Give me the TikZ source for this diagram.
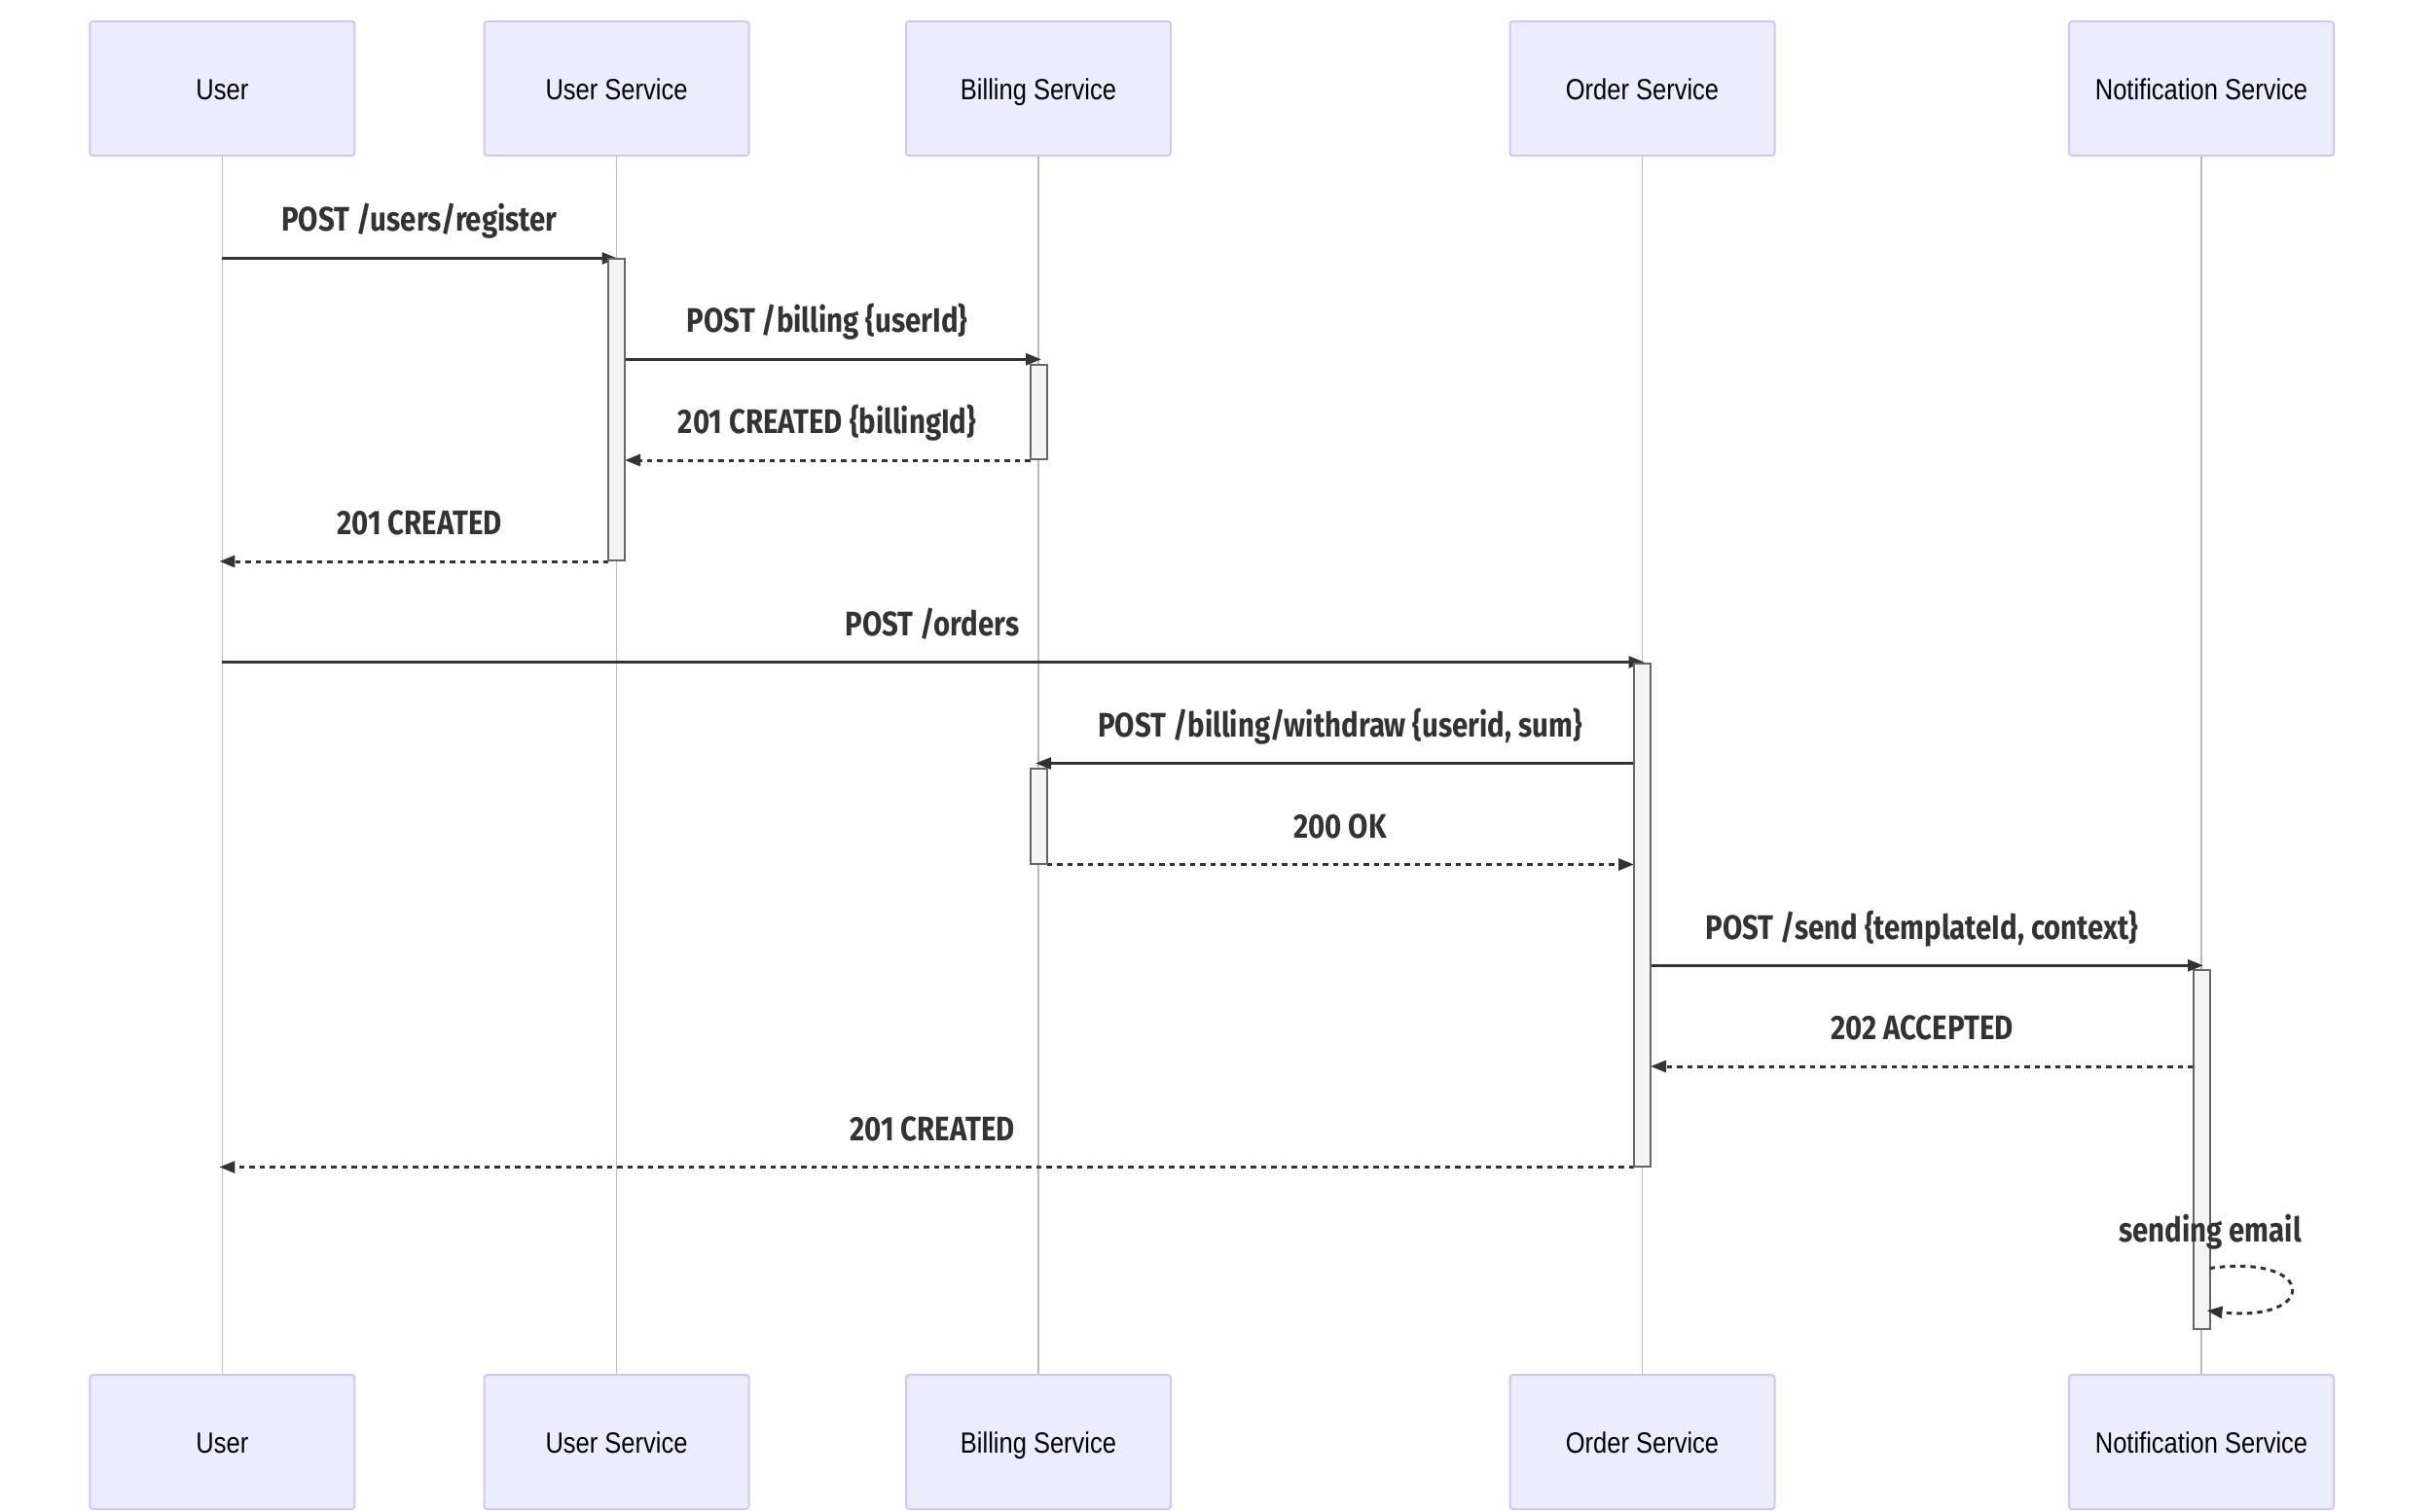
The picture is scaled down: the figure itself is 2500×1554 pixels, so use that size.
\documentclass[tikz,border=0pt]{standalone}
\usepackage{fontspec}
\setmainfont{Liberation Sans}
\newfontfamily\actorfont{Liberation Sans}[FakeStretch=0.85]
\newfontfamily\msgfont{Fira Sans}[FakeStretch=0.84]
\usetikzlibrary{arrows.meta,calc}
\definecolor{actfill}{HTML}{ECECFF}
\definecolor{actline}{HTML}{D3C6F2}
\definecolor{lifeln}{HTML}{BBBBBB}
\definecolor{msgcol}{HTML}{333333}
\definecolor{actvfill}{HTML}{F4F4F4}
\definecolor{actvline}{HTML}{666666}
\pgfdeclarelayer{back}
\pgfdeclarelayer{front}
\pgfsetlayers{back,main,front}
\begin{document}
\begin{tikzpicture}[x=1pt,y=-1pt,
 actor/.style={draw=actline, fill=actfill, line width=2pt, rounded corners=3pt,
   minimum width=272pt, minimum height=138pt, inner sep=0pt, outer sep=0pt,
   text height=23.7pt, text depth=0pt, text=black,
   font=\actorfont\fontsize{30}{36}\selectfont},
 life/.style={draw=lifeln, line width=1.6pt},
 activ/.style={draw=actvline, fill=actvfill, line width=2pt, minimum width=17pt,
   inner sep=0pt, outer sep=0pt, anchor=north},
 msg/.style={draw=msgcol, line width=2.7pt, -{Triangle[length=16pt,width=12pt]}},
 dmsg/.style={msg, line width=3pt, dash pattern=on 5.5pt off 5pt},
 lbl/.style={anchor=base, inner sep=0pt, text=msgcol,
   font=\msgfont\bfseries\fontsize{35}{40}\selectfont}
]
% actors (top)
\node[actor] (uT)  at (228.4,91) {User};
\node[actor] (usT) at (633.5,91) {User Service};
\node[actor] (bT)  at (1067,91)  {Billing Service};
\node[actor] (oT)  at (1687.5,91) {Order Service};
\node[actor] (nT)  at (2262,91)  {Notification Service};
% actors (bottom)
\node[actor] (uB)  at (228.4,1482) {User};
\node[actor] (usB) at (633.5,1482) {User Service};
\node[actor] (bB)  at (1067,1482)  {Billing Service};
\node[actor] (oB)  at (1687.5,1482) {Order Service};
\node[actor] (nB)  at (2262,1482)  {Notification Service};
% activations
\node[activ, minimum height=309.5pt] (a1) at (633.5,266.5) {};
\node[activ, minimum height=97.5pt]  (a2) at (1067,374.5) {};
\node[activ, minimum height=517pt]   (a3) at (1687.5,681.5) {};
\node[activ, minimum height=98pt]    (a4) at (1067,789.5) {};
\node[activ, minimum height=369pt]   (a5) at (2262,997) {};

\begin{pgfonlayer}{back}
\fill[white] (0,0) rectangle (2500,1554);
% lifelines
\draw[life] (uT.south) -- (uB.north);
\draw[life] (usT.south) -- (usB.north);
\draw[life] (bT.south) -- (bB.north);
\draw[life] (oT.south) -- (oB.north);
\draw[life] (nT.south) -- (nB.north);
% messages
\draw[msg]  (uT.south |- 0,265.5) -- ($(usT.south |- 0,265.5)+(1,0)$);
\draw[msg]  (a1.east |- 0,369.3) -- ($(bT.south |- 0,369.3)+(3,0)$);
\draw[dmsg] (a2.west |- 0,473) -- (a1.east |- 0,473);
\draw[dmsg] (a1.west |- 0,577) -- ($(uT.south |- 0,577)+(-3,0)$);
\draw[msg]  (uT.south |- 0,680.5) -- ($(oT.south |- 0,680.5)+(2,0)$);
\draw[msg]  (a3.west |- 0,784.5) -- ($(bT.south |- 0,784.5)+(-3,0)$);
\draw[dmsg] (a4.east |- 0,888.5) -- (a3.west |- 0,888.5);
\draw[msg]  (a3.east |- 0,992.3) -- ($(nT.south |- 0,992.3)+(2,0)$);
\draw[dmsg] (a5.west |- 0,1096) -- (a3.east |- 0,1096);
\draw[dmsg] (a3.west |- 0,1199.5) -- ($(uT.south |- 0,1199.5)+(-3,0)$);
% labels
\node[lbl] (l1)  at (431,238)    {POST /users/register};
\node[lbl] (l2)  at (850,341.8)  {POST /billing \{userId\}};
\node[lbl] (l3)  at (850,445.5)  {201 CREATED \{billingId\}};
\node[lbl] (l4)  at (431,549.5)  {201 CREATED};
\node[lbl] (l5)  at (958,653)    {POST /orders};
\node[lbl] (l6)  at (1377,757)   {POST /billing/withdraw \{userid, sum\}};
\node[lbl] (l7)  at (1377,861)   {200 OK};
\node[lbl] (l8)  at (1975,965)   {POST /send \{templateId, context\}};
\node[lbl] (l9)  at (1975,1068.5) {202 ACCEPTED};
\node[lbl] (l10) at (958,1172)   {201 CREATED};
\end{pgfonlayer}

\begin{pgfonlayer}{front}
\coordinate (loopS) at (a5.east |- 0,1303.5);
\coordinate (loopE) at ($(a5.east |- 0,1347)+(-3,0)$);
\draw[dmsg] (loopS) .. controls (2382,1288) and (2382,1360) .. (loopE);
\node[lbl] (l11) at (2271,1276) {sending email};
\end{pgfonlayer}
\end{tikzpicture}
\end{document}
